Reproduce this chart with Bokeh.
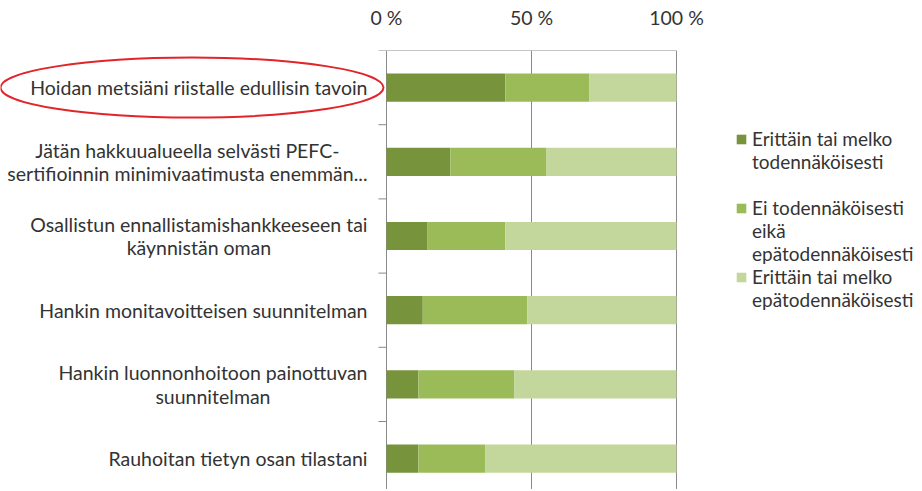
from bokeh.plotting import figure
from bokeh.models import ColumnDataSource, Range1d, FixedTicker, Legend, LegendItem
from bokeh.core.properties import value
from bokeh.embed import file_html
from bokeh.resources import INLINE

# ---- data ----
CATEGORIES = [
    "Hoidan metsiäni riistalle edullisin tavoin",
    "Jätän hakkuualueella selvästi PEFC-\nsertifioinnin minimivaatimusta enemmän...",
    "Osallistun ennallistamishankkeeseen tai\nkäynnistän oman",
    "Hankin monitavoitteisen suunnitelman",
    "Hankin luonnonhoitoon painottuvan\nsuunnitelman",
    "Rauhoitan tietyn osan tilastani",
]
LIKELY = [41, 22, 14, 12.5, 11, 11]
NEUTRAL = [29, 33, 27, 36, 33, 23]
UNLIKELY = [30, 45, 59, 51.5, 56, 66]
# legend texts, wrapped as in the original
SERIES = [
    ["Erittäin tai melko", "todennäköisesti", ""],
    ["Ei todennäköisesti", "eikä", "epätodennäköisesti"],
    ["Erittäin tai melko", "epätodennäköisesti"],
]
TICKS = [0, 50, 100]
TICK_LABELS = ["0 %", "50 %", "100 %"]

# ---- style / layout ----
COLORS = ["#77933C", "#9BBB59", "#C3D69B"]
FONT = "Lato"
FS = "19.5px"
LEG_FS = "19px"
TXT = "#333333"
GRID = "#898989"
W, H = 920, 489
TOP = 50
ZERO_PX = 386
PX_PER_UNIT = 2.9
BAND_PX = 74.2
BAR_H = 0.38
TICK_PX = 8
LEG_ROW = 23

frame_h = H - TOP
x_range = Range1d(-ZERO_PX / PX_PER_UNIT, (W - ZERO_PX) / PX_PER_UNIT)
y_range = Range1d(frame_h / BAND_PX, 0)

p = figure(width=W, height=H, x_range=x_range, y_range=y_range,
           x_axis_location="above", y_axis_location=None,
           output_backend="svg", toolbar_location=None,
           min_border_left=0, min_border_right=0, min_border_bottom=0,
           min_border_top=TOP)
p.outline_line_color = None
p.ygrid.visible = False
p.xgrid.ticker = FixedTicker(ticks=TICKS)
p.xgrid.grid_line_color = GRID
p.xgrid.grid_line_width = 1

ax = p.xaxis[0]
ax.ticker = FixedTicker(ticks=TICKS)
ax.major_label_overrides = dict(zip(TICKS, TICK_LABELS))
ax.axis_line_color = None
ax.major_tick_line_color = None
ax.minor_tick_line_color = None
ax.major_label_standoff = 16
ax.major_label_text_font = FONT
ax.major_label_text_font_size = FS
ax.major_label_text_color = TXT

n = len(CATEGORIES)
ys = [i + 0.5 for i in range(n)]
series_vals = [LIKELY, NEUTRAL, UNLIKELY]
lefts = [0.0] * n
renderers = []
for vals, col in zip(series_vals, COLORS):
    rights = [l + v for l, v in zip(lefts, vals)]
    src = ColumnDataSource(dict(y=ys, left=lefts, right=rights))
    r = p.hbar(y="y", left="left", right="right", height=BAR_H, source=src,
               fill_color=col, line_color=None)
    renderers.append(r)
    lefts = rights

# axis line pieces: top line + category boundary ticks
tick_dx = TICK_PX / PX_PER_UNIT
bounds = list(range(n + 1))
p.segment(x0=[-tick_dx] * len(bounds), x1=[0] * len(bounds), y0=bounds, y1=bounds,
          line_color=GRID, line_width=1)
p.segment(x0=[0], x1=[TICKS[-1]], y0=[0], y1=[0], line_color=GRID, line_width=1)

# category labels
p.text(x=[0] * n, y=ys, text=CATEGORIES, x_offset=-19,
       anchor="center_right", text_align="center", text_baseline="middle",
       text_font=value(FONT), text_font_size=FS, text_color=TXT,
       text_line_height=1.02)

# red highlight ellipse around the first label
p.ellipse(x=[(191.5 - ZERO_PX) / PX_PER_UNIT], y=[ys[0]], width=383, height=60,
          width_units="screen", height_units="screen",
          fill_color=None, line_color="#E2252B", line_width=2)

# legend: one row per wrapped line, swatch on the first line of each entry
items = []
for lines, r in zip(SERIES, renderers):
    for k, line in enumerate(lines):
        items.append(LegendItem(label=value(line), renderers=[r] if k == 0 else []))
n_rows = len(items)
leg_top = 127 - TOP
legend = Legend(items=items,
                location=(735, frame_h - leg_top - n_rows * LEG_ROW),
                padding=0, spacing=0, margin=0,
                glyph_width=12, glyph_height=12, label_standoff=5,
                label_height=LEG_ROW,
                label_text_font=FONT, label_text_font_size=LEG_FS, label_text_color=TXT,
                border_line_color=None, background_fill_alpha=0)
p.add_layout(legend)

open("out.html", "w").write(file_html(p, INLINE))
